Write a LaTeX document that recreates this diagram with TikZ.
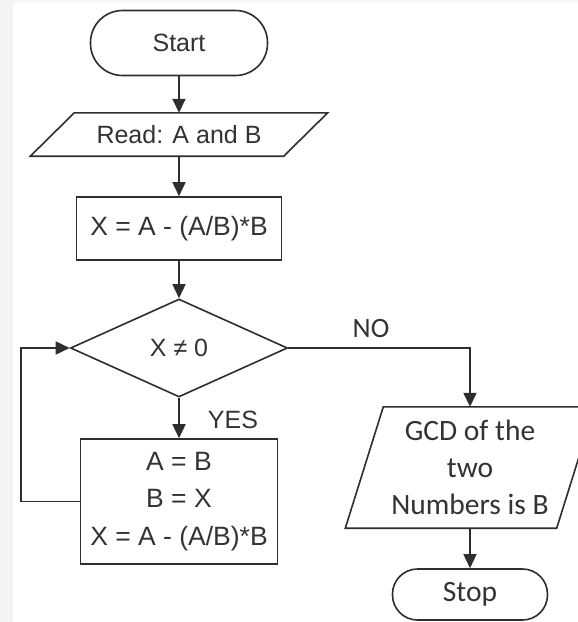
\documentclass[tikz,border=0pt]{standalone}
\usepackage{fontspec}
\setmainfont{Liberation Sans}
\newfontfamily\calfont{Carlito}
\usetikzlibrary{arrows.meta,shapes.geometric}
\definecolor{lc}{HTML}{2E2E2E}
\definecolor{tc}{HTML}{333333}
\tikzset{
  ln/.style={draw=lc, line width=1.6pt},
  arr/.style={ln, -{Triangle[length=14pt,width=13pt]}},
  txt/.style={text=tc, font=\fontsize{25}{37.5}\selectfont, align=center, inner sep=0pt},
  btxt/.style={text=tc, font=\fontsize{26.5}{37.5}\selectfont, align=center, inner sep=0pt},
  ctxt/.style={text=tc, font=\calfont\fontsize{29.5}{37}\selectfont, align=center, inner sep=0pt},
  term/.style={ln, rectangle, minimum width=#1, inner sep=0pt},
  procbox/.style={ln, rectangle, inner sep=0pt},
  iobox/.style={rectangle, inner sep=0pt},
  decbox/.style={ln, diamond, inner sep=0pt},
  lbl/.style={text=tc, inner sep=0pt}
}
\begin{document}
\begin{tikzpicture}[x=1pt,y=-1pt]
\fill[white] (0,0) rectangle (578,622);
\useasboundingbox (0,0) rectangle (578,622);
\clip (0,0) rectangle (578,622);
\fill[gray!9] (0,0) rectangle (13,622);
\fill[gray!6] (13,0) rectangle (578,3);

% nodes
\node[term=177pt, minimum height=65pt, rounded corners=32pt, txt] (start) at (179,43) {Start};
\node[iobox, minimum width=253pt, minimum height=43pt, txt] (read) at (179,134.5) {Read: A and B};
\draw[ln] ([xshift=22pt]read.north west) -- ([xshift=22pt]read.north east)
   -- ([xshift=-22pt]read.south east) -- ([xshift=-22pt]read.south west) -- cycle;
\node[procbox, minimum width=205pt, minimum height=63pt, btxt] (calc) at (179,228.5) {X = A - (A/B)*B};
\node[decbox, minimum width=217pt, minimum height=98pt, txt] (dec) at (179,348) {X ≠ 0};
\node[procbox, minimum width=197pt, minimum height=125pt, btxt] (upd) at (179,501.5) {A = B\\B = X\\X = A - (A/B)*B};
\node[iobox, minimum width=211pt, minimum height=121pt, ctxt] (gcd) at (470,467.5) {GCD of the\\two\\Numbers is B};
\draw[ln] ([xshift=19pt]gcd.north west) -- ([xshift=19pt]gcd.north east)
   -- ([xshift=-19pt]gcd.south east) -- ([xshift=-19pt]gcd.south west) -- cycle;
\node[term=155pt, minimum height=51pt, rounded corners=25pt, ctxt] (stop) at (470,594.5) {Stop};

% labels
\node[lbl, font=\fontsize{25}{30}\selectfont] (yes) at (233,420) {YES};
\node[lbl, font=\calfont\fontsize{28}{30}\selectfont] (no) at (371,329) {NO};

% connectors
\coordinate (loopb) at (21,501.5);
\coordinate (loopt) at (21,348);
\coordinate (nocorner) at (470,348);
\draw[arr] (start) -- (read);
\draw[arr] (read) -- (calc);
\draw[arr] (calc) -- (dec);
\draw[arr] (dec) -- (upd);
\draw[arr] (upd.west) -- (loopb) -- (loopt) -- (dec.west);
\draw[arr] (dec.east) -- (nocorner) -- (gcd.north);
\draw[arr] (gcd) -- (stop);
\end{tikzpicture}
\end{document}
